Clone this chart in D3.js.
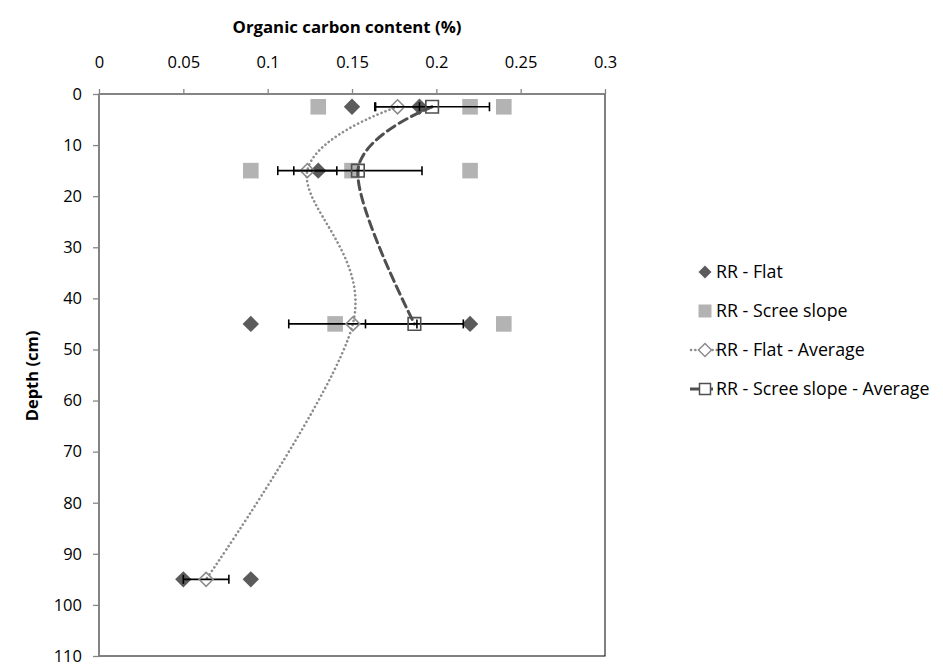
<!DOCTYPE html>
<html>
<head>
<meta charset="utf-8">
<script src="https://cdn.jsdelivr.net/npm/d3@7/dist/d3.min.js"></script>
<style>
  html, body { margin: 0; padding: 0; background: #fff; }
  svg { display: block; font-family: "Open Sans", "Liberation Sans", sans-serif; }
</style>
</head>
<body>
<svg id="chart" width="943" height="666"></svg>
<script>
// Individual samples (depth in cm, organic carbon in %)
const flatDepths   = [2.5, 2.5, 15, 45, 45, 95, 95];
const flatValues   = [0.15, 0.19, 0.13, 0.09, 0.22, 0.05, 0.09];
const screeDepths  = [2.5, 2.5, 2.5, 15, 15, 15, 45, 45];
const screeValues  = [0.13, 0.22, 0.24, 0.09, 0.15, 0.22, 0.14, 0.24];

// Averages per depth with standard error
const flatAvgDepths  = [2.5, 15, 45, 95];
const flatAvgValues  = [0.177, 0.1235, 0.1505, 0.0635];
const flatAvgErrors  = [0.013, 0.0175, 0.038, 0.0135];
const screeAvgDepths = [2.5, 15, 45];
const screeAvgValues = [0.1975, 0.1535, 0.187];
const screeAvgErrors = [0.034, 0.038, 0.029];

// Axis ticks
const xTicks = [0, 0.05, 0.1, 0.15, 0.2, 0.25, 0.3];
const yTicks = [0, 10, 20, 30, 40, 50, 60, 70, 80, 90, 100, 110];

const legendLabels = ["RR - Flat", "RR - Scree slope", "RR - Flat - Average", "RR - Scree slope - Average"];

const C = {
  flat: "#5b5b5b",
  scree: "#b3b3b3",
  flatAvg: "#8c8c8c",
  screeAvg: "#4f4f4f",
  axis: "#868686",
  text: "#000"
};

const svg = d3.select("#chart");
const plot = { left: 99, right: 605, top: 94, bottom: 656 };

const x = d3.scaleLinear().domain([0, 0.3]).range([plot.left, plot.right]);
const y = d3.scaleLinear().domain([0, 110]).range([plot.top, plot.bottom]);

// Plot area border
svg.append("rect")
  .attr("x", plot.left).attr("y", plot.top)
  .attr("width", plot.right - plot.left).attr("height", plot.bottom - plot.top)
  .attr("fill", "none").attr("stroke", "#000").attr("stroke-width", 1);

// Top (value) axis
const xAxis = svg.append("g")
  .attr("transform", `translate(0,${plot.top})`)
  .call(d3.axisTop(x).tickValues(xTicks).tickFormat(d => d3.format("")(+d.toFixed(2))).tickSize(5).tickPadding(21));
// Left (depth) axis
const yAxis = svg.append("g")
  .attr("transform", `translate(${plot.left},0)`)
  .call(d3.axisLeft(y).tickValues(yTicks).tickSize(6).tickPadding(11));

[xAxis, yAxis].forEach(g => {
  g.select(".domain").attr("stroke", C.axis).attr("stroke-width", 1.6);
  g.selectAll(".tick line").attr("stroke", C.axis).attr("stroke-width", 1.3);
  g.selectAll(".tick text").attr("fill", C.text).style("font-size", "16.5px")
    .style("font-family", "'Open Sans', sans-serif");
});
// Straight axis lines without the outer tick stubs
xAxis.select(".domain").attr("d", `M${plot.left},0H${plot.right}`);
yAxis.select(".domain").attr("d", `M0,${plot.top}V${plot.bottom}`);

// Axis titles
svg.append("text")
  .attr("x", 347).attr("y", 33)
  .attr("text-anchor", "middle")
  .style("font-size", "16.8px").style("font-weight", "bold")
  .text("Organic carbon content (%)");

svg.append("text")
  .attr("transform", "translate(38,376) rotate(-90)")
  .attr("text-anchor", "middle")
  .style("font-size", "16.5px").style("font-weight", "bold")
  .text("Depth (cm)");

// Marker shapes
const diamondPath = (s) => `M0,${-s}L${s},0L0,${s}L${-s},0Z`;
const squarePath  = (s) => `M${-s},${-s}H${s}V${s}H${-s}Z`;

// Sample markers: flat (diamonds) then scree slope (squares)
svg.append("g").selectAll("path")
  .data(flatValues.map((v, i) => [v, flatDepths[i]]))
  .join("path")
  .attr("transform", d => `translate(${x(d[0])},${y(d[1])})`)
  .attr("d", diamondPath(8.2))
  .attr("fill", C.flat);

svg.append("g").selectAll("path")
  .data(screeValues.map((v, i) => [v, screeDepths[i]]))
  .join("path")
  .attr("transform", d => `translate(${x(d[0])},${y(d[1])})`)
  .attr("d", squarePath(7.8))
  .attr("fill", C.scree);

// Smoothed average lines
const line = d3.line().x(d => x(d[0])).y(d => y(d[1])).curve(d3.curveCatmullRom.alpha(0));

function averageSeries(values, depths, errors, color, dash, width, marker, markerSize) {
  const pts = values.map((v, i) => [v, depths[i], errors[i]]);
  const g = svg.append("g");
  g.append("path")
    .datum(pts)
    .attr("d", line)
    .attr("fill", "none")
    .attr("stroke", color)
    .attr("stroke-width", width)
    .attr("stroke-dasharray", dash)
    .attr("stroke-linecap", "round");
  // Standard-error bars
  const eb = g.append("g").selectAll("g").data(pts).join("g")
    .attr("transform", d => `translate(0,${y(d[1])})`);
  eb.append("line")
    .attr("x1", d => x(d[0] - d[2])).attr("x2", d => x(d[0] + d[2]))
    .attr("stroke", "#000").attr("stroke-width", 1.6);
  eb.append("line")
    .attr("x1", d => x(d[0] - d[2])).attr("x2", d => x(d[0] - d[2]))
    .attr("y1", -4.5).attr("y2", 4.5)
    .attr("stroke", "#000").attr("stroke-width", 1.6);
  eb.append("line")
    .attr("x1", d => x(d[0] + d[2])).attr("x2", d => x(d[0] + d[2]))
    .attr("y1", -4.5).attr("y2", 4.5)
    .attr("stroke", "#000").attr("stroke-width", 1.6);
  g.append("g").selectAll("path").data(pts).join("path")
    .attr("transform", d => `translate(${x(d[0])},${y(d[1])})`)
    .attr("d", marker(markerSize))
    .attr("fill", "none")
    .attr("stroke", color)
    .attr("stroke-width", 1.6);
}

averageSeries(flatAvgValues, flatAvgDepths, flatAvgErrors, C.flatAvg, "0.1 4.2", 2.6, diamondPath, 7);
averageSeries(screeAvgValues, screeAvgDepths, screeAvgErrors, C.screeAvg, "9 5", 3, squarePath, 6.3);

// Legend
const legend = svg.append("g").attr("transform", "translate(705,0)");
const rowY = [272, 311, 350, 389];
legendLabels.forEach((label, i) => {
  const gy = rowY[i];
  const item = legend.append("g").attr("transform", `translate(0,${gy})`);
  if (i === 0) {
    item.append("path").attr("d", diamondPath(6.5)).attr("fill", C.flat);
  } else if (i === 1) {
    item.append("path").attr("d", squarePath(6.5)).attr("fill", C.scree);
  } else if (i === 2) {
    item.append("line").attr("x1", -14).attr("x2", 14)
      .attr("stroke", C.flatAvg).attr("stroke-width", 2.6)
      .attr("stroke-dasharray", "0.1 4.2").attr("stroke-linecap", "round");
    item.append("path").attr("d", diamondPath(6.5)).attr("fill", "#fff")
      .attr("stroke", C.flatAvg).attr("stroke-width", 1.5);
  } else {
    item.append("line").attr("x1", -15).attr("x2", 15)
      .attr("stroke", C.screeAvg).attr("stroke-width", 3)
      .attr("stroke-dasharray", "9 5");
    item.append("path").attr("d", squarePath(5.5)).attr("fill", "#fff")
      .attr("stroke", C.screeAvg).attr("stroke-width", 1.5);
  }
  item.append("text")
    .attr("x", 11).attr("y", 0).attr("dy", "0.35em")
    .style("font-size", "17.8px")
    .text(label);
});
</script>
</body>
</html>
